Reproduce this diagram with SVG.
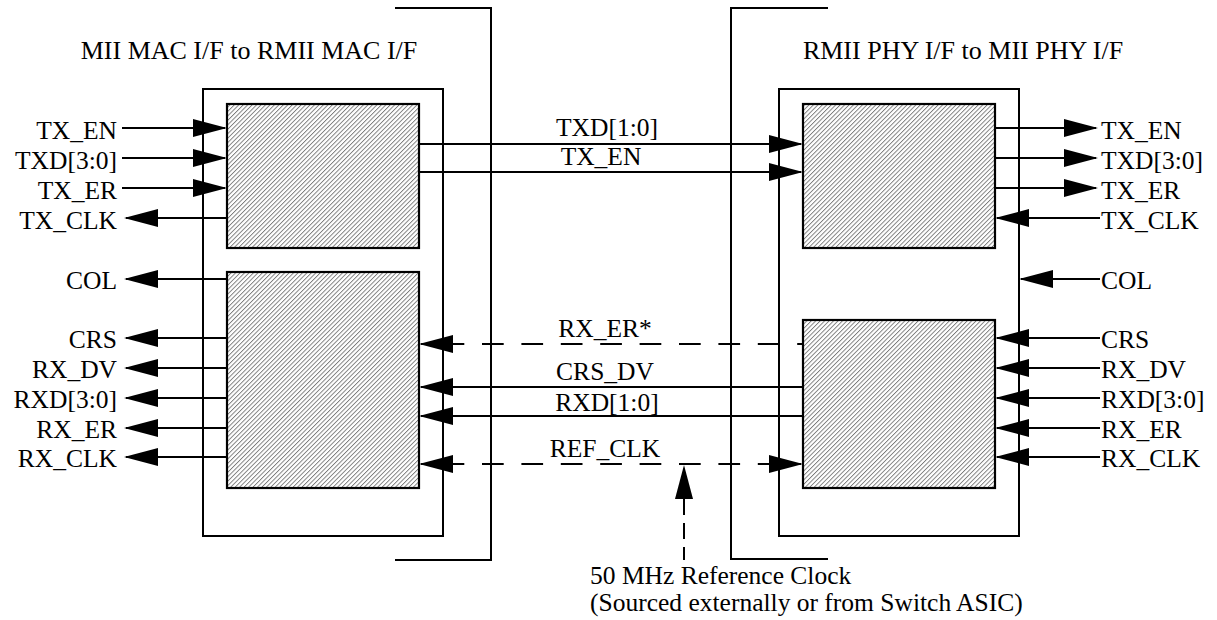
<svg xmlns="http://www.w3.org/2000/svg" width="1217" height="620" viewBox="0 0 1217 620">
<style>
  text { font-family: "Liberation Serif", "Times New Roman", serif; font-size: 25.5px; fill: #000; }
  .t { font-size: 26px; }
  .r { text-anchor: end; }
  .m { text-anchor: middle; }
  .box { fill: none; stroke: #000; stroke-width: 2; }
  .hatch { fill: url(#hatch); stroke: #000; stroke-width: 2.2; }
  .w { fill: none; stroke: #000; stroke-width: 2; }
  .a { marker-end: url(#ah); }
  .s { marker-start: url(#ah); }
  .d { stroke-dasharray: 21.7 17.7; stroke-dashoffset: 17.8; }
</style>
<defs>
  <pattern id="hatch" patternUnits="userSpaceOnUse" width="3.15" height="3.15" patternTransform="rotate(45)">
    <rect width="3.15" height="3.15" fill="#fff"/>
    <line x1="0.5" y1="0" x2="0.5" y2="3.15" stroke="#666" stroke-width="0.8"/>
  </pattern>
  <marker id="ah" viewBox="0 0 34 18" refX="32" refY="9" markerWidth="34" markerHeight="18" markerUnits="userSpaceOnUse" orient="auto-start-reverse">
    <path d="M0,0 L34,9 L0,18 z" fill="#000"/>
  </marker>
</defs>
<rect width="1217" height="620" fill="#fff"/>

<g id="left-device">
  <polyline class="box" points="395,8 491,8 491,560 395,560"/>
  <rect class="box" x="203" y="89" width="240" height="447"/>
  <text class="m t" x="249" y="59">MII MAC I/F to RMII MAC I/F</text>
</g>
<g id="left-tx-block">
  <rect class="hatch" x="227" y="104" width="192" height="144"/>
</g>
<g id="left-rx-block">
  <rect class="hatch" x="227" y="272" width="192" height="216"/>
</g>

<g id="right-device">
  <polyline class="box" points="828,8 731,8 731,559 828,559"/>
  <rect class="box" x="779" y="89" width="240" height="447"/>
  <text class="m t" x="963" y="59">RMII PHY I/F to MII PHY I/F</text>
</g>
<g id="right-tx-block">
  <rect class="hatch" x="803" y="104" width="192" height="144"/>
</g>
<g id="right-rx-block">
  <rect class="hatch" x="803" y="320" width="192" height="168"/>
</g>

<g id="connectors">
  <!-- left MII side -->
  <line class="w a" x1="122" y1="128" x2="225" y2="128"/>
  <line class="w a" x1="122" y1="158" x2="225" y2="158"/>
  <line class="w a" x1="122" y1="188" x2="225" y2="188"/>
  <line class="w a" x1="227" y1="218" x2="126" y2="218"/>
  <line class="w a" x1="227" y1="279" x2="126" y2="279"/>
  <line class="w a" x1="227" y1="338" x2="126" y2="338"/>
  <line class="w a" x1="227" y1="368" x2="126" y2="368"/>
  <line class="w a" x1="227" y1="398" x2="126" y2="398"/>
  <line class="w a" x1="227" y1="428" x2="126" y2="428"/>
  <line class="w a" x1="227" y1="457" x2="126" y2="457"/>
  <!-- RMII middle -->
  <line class="w a" x1="419" y1="144" x2="801" y2="144"/>
  <line class="w a" x1="419" y1="172" x2="801" y2="172"/>
  <path class="w s d" d="M421,344 L803,344"/>
  <line class="w a" x1="803" y1="387" x2="421" y2="387"/>
  <line class="w a" x1="803" y1="416" x2="421" y2="416"/>
  <path class="w s a d" d="M421,464 L801,464"/>
  <path class="w a" d="M684,560 L684,467" style="stroke-dasharray:16 8;stroke-dashoffset:3"/>
  <!-- right MII side -->
  <line class="w a" x1="995" y1="128" x2="1096" y2="128"/>
  <line class="w a" x1="995" y1="158" x2="1096" y2="158"/>
  <line class="w a" x1="995" y1="188" x2="1096" y2="188"/>
  <line class="w a" x1="1100" y1="218" x2="997" y2="218"/>
  <line class="w a" x1="1100" y1="279" x2="1021" y2="279"/>
  <line class="w a" x1="1100" y1="338" x2="997" y2="338"/>
  <line class="w a" x1="1100" y1="368" x2="997" y2="368"/>
  <line class="w a" x1="1100" y1="398" x2="997" y2="398"/>
  <line class="w a" x1="1100" y1="428" x2="997" y2="428"/>
  <line class="w a" x1="1100" y1="457" x2="997" y2="457"/>
</g>

<g id="labels">
  <text class="r" x="117" y="139">TX_EN</text>
  <text class="r" x="117" y="169">TXD[3:0]</text>
  <text class="r" x="117" y="199">TX_ER</text>
  <text class="r" x="117" y="229">TX_CLK</text>
  <text class="r" x="117" y="289">COL</text>
  <text class="r" x="117" y="348">CRS</text>
  <text class="r" x="117" y="378">RX_DV</text>
  <text class="r" x="117" y="408">RXD[3:0]</text>
  <text class="r" x="117" y="438">RX_ER</text>
  <text class="r" x="117" y="467">RX_CLK</text>

  <text class="m" x="607" y="136">TXD[1:0]</text>
  <text class="m" x="601" y="165">TX_EN</text>
  <text class="m" x="605" y="337">RX_ER*</text>
  <text class="m" x="605" y="380">CRS_DV</text>
  <text class="m" x="607" y="411">RXD[1:0]</text>
  <text class="m" x="605" y="457">REF_CLK</text>

  <text x="1101" y="139">TX_EN</text>
  <text x="1101" y="169">TXD[3:0]</text>
  <text x="1101" y="199">TX_ER</text>
  <text x="1101" y="229">TX_CLK</text>
  <text x="1101" y="289">COL</text>
  <text x="1101" y="348">CRS</text>
  <text x="1101" y="378">RX_DV</text>
  <text x="1101" y="408">RXD[3:0]</text>
  <text x="1101" y="438">RX_ER</text>
  <text x="1101" y="467">RX_CLK</text>

  <text x="590" y="584">50 MHz Reference Clock</text>
  <text x="590" y="611">(Sourced externally or from Switch ASIC)</text>
</g>
</svg>
